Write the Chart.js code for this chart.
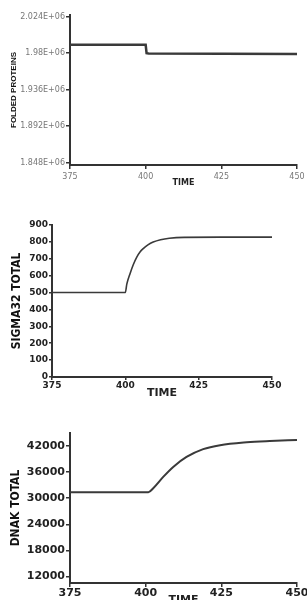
<!DOCTYPE html>
<html>
<head>
<meta charset="utf-8">
<script src="https://cdn.jsdelivr.net/npm/chart.js@4"></script>
<style>
    body { margin: 0; background: #fff; }
    .panel { position: absolute; left: 0; }
</style>
</head>
<body>
<canvas id="folded" class="panel" width="307" height="200" style="top:0"></canvas>
<canvas id="sigma" class="panel" width="307" height="200" style="top:200px"></canvas>
<canvas id="dnak" class="panel" width="307" height="200" style="top:400px"></canvas>
<script>
// shared x axis
const timeTicks = [375, 400, 425, 450];

// panel 1 - folded proteins
const foldedTime = [375, 400, 400.3, 401, 450];
const foldedValues = [1990000, 1990000, 1980000, 1979500, 1979000];
const foldedTicks = [1848000, 1892000, 1936000, 1980000, 2024000];
const foldedTickLabels = ['1.848E+06', '1.892E+06', '1.936E+06', '1.98E+06', '2.024E+06'];

// panel 2 - sigma32 total
const sigmaTime = [375, 400, 400.5, 401.6, 402.7, 403.9, 405, 406.1, 407.7, 409.5, 412, 415, 420, 435, 450];
const sigmaValues = [500, 500, 550, 612, 665, 710, 740, 760, 782, 799, 813, 822, 827, 828, 828];
const sigmaTicks = [0, 100, 200, 300, 400, 500, 600, 700, 800, 900];

// panel 3 - dnak total
const dnakTime = [375, 400.9, 402.5, 405.8, 409.1, 413.5, 419, 424.6, 433.4, 441, 450];
const dnakValues = [31400, 31400, 32300, 34900, 37200, 39500, 41300, 42200, 42850, 43150, 43400];
const dnakTicks = [12000, 18000, 24000, 30000, 36000, 42000];

const toPoints = (xs, ys) => xs.map((x, i) => ({ x: x, y: ys[i] }));
const axisColor = '#333';

function makePanel(id, cfg) {
    const ctx = document.getElementById(id).getContext('2d');
    return new Chart(ctx, {
        type: 'line',
        data: {
            datasets: [{
                data: toPoints(cfg.time, cfg.values),
                borderColor: '#3a3a3a',
                borderWidth: cfg.lineWidth,
                pointRadius: 0,
                fill: false,
                tension: cfg.smooth ? 0.4 : 0,
                cubicInterpolationMode: cfg.smooth ? 'monotone' : 'default'
            }]
        },
        options: {
            responsive: false,
            animation: false,
            layout: { padding: cfg.padding },
            plugins: { legend: { display: false }, tooltip: { enabled: false } },
            scales: {
                x: {
                    type: 'linear',
                    min: 375,
                    max: 450,
                    afterBuildTicks: (axis) => { axis.ticks = timeTicks.map(v => ({ value: v })); },
                    afterFit: (axis) => {
                        axis.height = cfg.xHeight;
                        axis.paddingLeft = 0;
                        axis.paddingRight = 0;
                    },
                    grid: { drawOnChartArea: false, color: axisColor, lineWidth: 1.5, tickLength: cfg.tickLen },
                    border: { color: axisColor, width: 2 },
                    ticks: {
                        padding: cfg.xTickPad,
                        maxRotation: 0,
                        color: cfg.tickColor,
                        font: cfg.tickFont
                    },
                    title: {
                        display: true,
                        text: 'TIME',
                        color: '#222',
                        font: cfg.xTitleFont,
                        padding: { top: 0, bottom: cfg.xTitlePad }
                    }
                },
                y: {
                    min: cfg.yMin,
                    max: cfg.yMax,
                    afterBuildTicks: (axis) => { axis.ticks = cfg.yTicks.map(v => ({ value: v })); },
                    afterFit: (axis) => {
                        axis.width = cfg.yWidth;
                        axis.paddingTop = 0;
                        axis.paddingBottom = 0;
                    },
                    grid: { drawOnChartArea: false, color: axisColor, lineWidth: 1.5, tickLength: cfg.tickLen },
                    border: { color: axisColor, width: 2 },
                    ticks: {
                        padding: 1,
                        color: cfg.tickColor,
                        font: cfg.tickFont,
                        callback: cfg.yLabel
                    },
                    title: {
                        display: true,
                        text: cfg.yTitle,
                        color: '#111',
                        font: cfg.yTitleFont,
                        padding: { top: cfg.yTitlePad, bottom: 0 }
                    }
                }
            }
        }
    });
}

const narrowBold = { family: "'Liberation Sans Narrow', 'DejaVu Sans Condensed', sans-serif", size: 12, weight: 'bold' };

makePanel('folded', {
    time: foldedTime, values: foldedValues, lineWidth: 2.5, smooth: false,
    padding: { top: 15, right: 10, left: 0, bottom: 0 },
    xHeight: 35, yWidth: 70, tickLen: 4, xTickPad: 3,
    tickColor: '#777',
    tickFont: { family: "'DejaVu Sans', sans-serif", size: 8 },
    xTitleFont: { family: "'DejaVu Sans', sans-serif", size: 8, weight: 'bold' },
    xTitlePad: 12,
    yMin: 1845000, yMax: 2026000, yTicks: foldedTicks,
    yLabel: (v) => foldedTickLabels[foldedTicks.indexOf(v)],
    yTitle: 'FOLDED PROTEINS',
    yTitleFont: { family: "'Liberation Sans', Arial, sans-serif", size: 8, weight: 'bold' },
    yTitlePad: 9
});

makePanel('sigma', {
    time: sigmaTime, values: sigmaValues, lineWidth: 1.6, smooth: true,
    padding: { top: 25, right: 35, left: 0, bottom: 0 },
    xHeight: 23, yWidth: 52, tickLen: 3, xTickPad: 0,
    tickColor: '#222',
    tickFont: { family: "'DejaVu Sans', sans-serif", size: 9, weight: 'bold' },
    xTitleFont: { family: "'DejaVu Sans', sans-serif", size: 11, weight: 'bold' },
    xTitlePad: 0,
    yMin: 0, yMax: 900, yTicks: sigmaTicks,
    yLabel: (v) => String(v),
    yTitle: 'SIGMA32 TOTAL',
    yTitleFont: narrowBold,
    yTitlePad: 10
});

makePanel('dnak', {
    time: dnakTime, values: dnakValues, lineWidth: 2, smooth: true,
    padding: { top: 33, right: 10, left: 0, bottom: 0 },
    xHeight: 17, yWidth: 70, tickLen: 4, xTickPad: 0,
    tickColor: '#222',
    tickFont: { family: "'DejaVu Sans', sans-serif", size: 11, weight: 'bold' },
    xTitleFont: { family: "'DejaVu Sans', sans-serif", size: 11, weight: 'bold' },
    xTitlePad: -7,
    yMin: 10500, yMax: 45000, yTicks: dnakTicks,
    yLabel: (v) => String(v),
    yTitle: 'DNAK TOTAL',
    yTitleFont: narrowBold,
    yTitlePad: 9
});
</script>
</body>
</html>
